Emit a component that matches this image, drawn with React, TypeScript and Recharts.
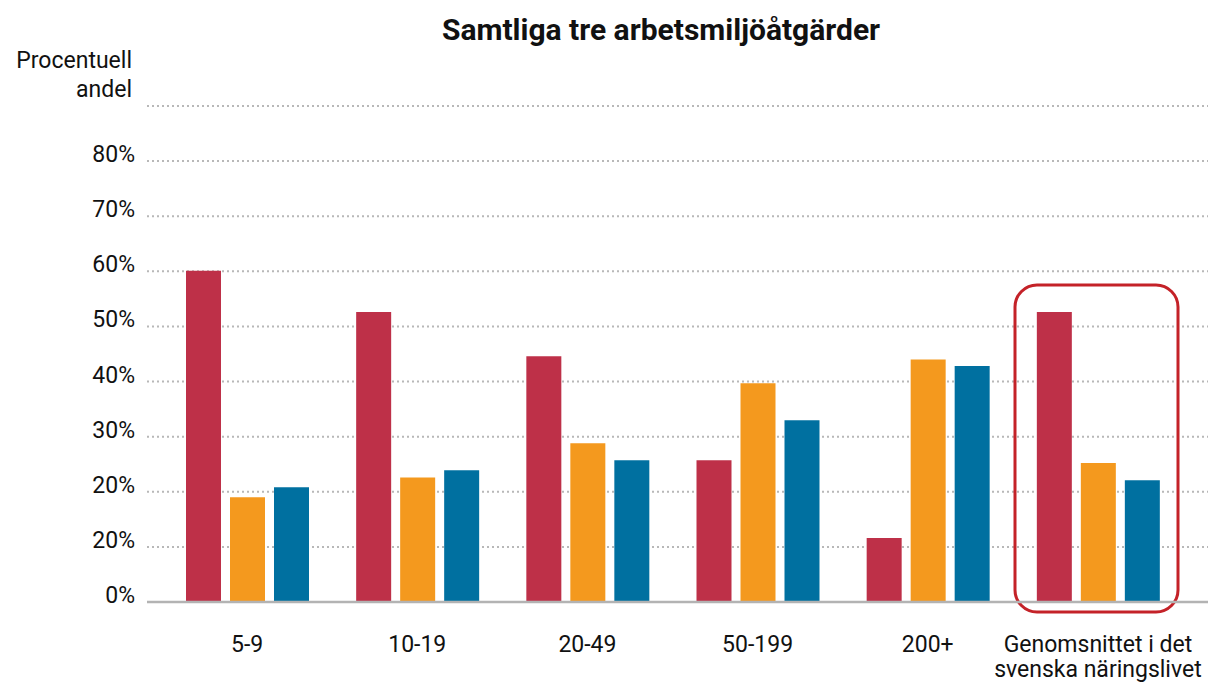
import { BarChart, Bar, XAxis, YAxis, CartesianGrid } from 'recharts'

// Size classes (number of employees) plus the national average
const categories = ['5-9', '10-19', '20-49', '50-199', '200+', 'Genomsnittet i det\nsvenska näringslivet']
const redValues = [60.1, 52.6, 44.6, 25.7, 11.6, 52.6]
const orangeValues = [19.0, 22.6, 28.8, 39.7, 44.0, 25.2]
const blueValues = [20.8, 23.9, 25.7, 33.0, 42.8, 22.1]
const yTicks = [0, 10, 20, 30, 40, 50, 60, 70, 80, 90]
// labels exactly as printed in the original (10% is shown as "20%")
const yTickLabels = ['0%', '20%', '20%', '30%', '40%', '50%', '60%', '70%', '80%', '']

const COLORS = { red: '#be3048', orange: '#f4991e', blue: '#0070a0' }
const FONT = 'Roboto, "Noto Sans", sans-serif'

const chartData = categories.map((name, i) => ({
  name,
  red: redValues[i],
  orange: orangeValues[i],
  blue: blueValues[i],
}))

function YTick(props: any) {
  const { x, y, payload } = props
  const idx = yTicks.indexOf(payload.value)
  return (
    <text x={x} y={y + 1} textAnchor="end" fontSize={23} fill="#111" fontFamily={FONT}>
      {yTickLabels[idx] ?? ''}
    </text>
  )
}

function XTick(props: any) {
  const { x, y, payload } = props
  const lines = String(payload.value).split('\n')
  return (
    <text x={x} y={y} textAnchor="middle" fontSize={23} fill="#111" fontFamily={FONT}>
      {lines.map((line, i) => (
        <tspan key={i} x={x} dy={i === 0 ? 50 : 25}>
          {line}
        </tspan>
      ))}
    </text>
  )
}

export default function App() {
  return (
    <div style={{ position: 'absolute', left: 0, top: 0, width: 1209, height: 682, background: '#fff', fontFamily: FONT }}>
      <BarChart
        width={1209}
        height={682}
        data={chartData}
        margin={{ top: 106, right: 1, left: 0, bottom: 0 }}
        barSize={35}
        barGap={9}
      >
        <CartesianGrid vertical={false} stroke="#b8b8b8" strokeWidth={2} strokeDasharray="2 3" />
        <XAxis
          dataKey="name"
          interval={0}
          height={80}
          padding={{ left: 15, right: 25 }}
          tickLine={false}
          tickSize={0}
          tickMargin={0}
          axisLine={{ stroke: '#b3b3b3', strokeWidth: 2.5 }}
          tick={<XTick />}
        />
        <YAxis
          width={147}
          domain={[0, 90]}
          ticks={yTicks}
          interval={0}
          axisLine={false}
          tickLine={false}
          tickSize={0}
          tickMargin={12}
          tick={<YTick />}
        />
        <Bar dataKey="red" fill={COLORS.red} isAnimationActive={false} />
        <Bar dataKey="orange" fill={COLORS.orange} isAnimationActive={false} />
        <Bar dataKey="blue" fill={COLORS.blue} isAnimationActive={false} />
        <text x={661} y={40} textAnchor="middle" fontSize={30} fontWeight={700} fill="#111" fontFamily={FONT}>
          Samtliga tre arbetsmiljöåtgärder
        </text>
        <text x={132} y={68} textAnchor="end" fontSize={23} fill="#111" fontFamily={FONT}>
          Procentuell
        </text>
        <text x={132} y={97} textAnchor="end" fontSize={23} fill="#111" fontFamily={FONT}>
          andel
        </text>
        <rect x={1015} y={285} width={163} height={327} rx={22} fill="none" stroke="#c42228" strokeWidth={3} />
      </BarChart>
    </div>
  )
}
